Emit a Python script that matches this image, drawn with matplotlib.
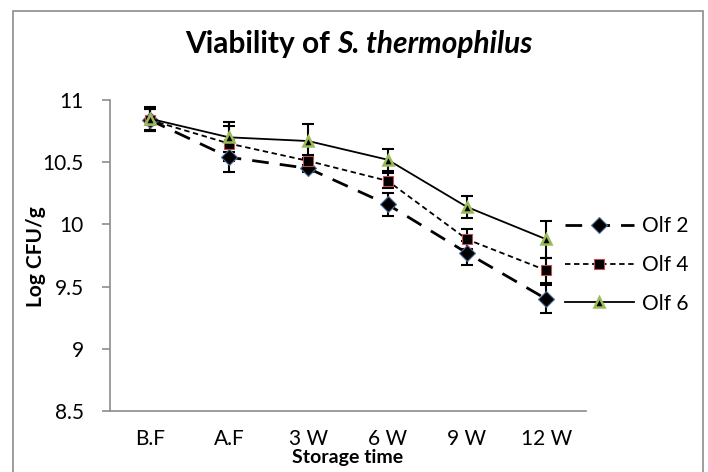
import numpy as np
import matplotlib
matplotlib.use('Agg')
import matplotlib.pyplot as plt
from matplotlib.patches import Rectangle

plt.rcParams['font.family'] = ['Lato', 'DejaVu Sans']

# storage time categories
categories = ['B.F', 'A.F', '3 W', '6 W', '9 W', '12 W']

# Log CFU/g for each treatment
olf2 = [10.84, 10.54, 10.45, 10.16, 9.77, 9.40]
olf4 = [10.84, 10.65, 10.51, 10.35, 9.88, 9.63]
olf6 = [10.85, 10.70, 10.67, 10.52, 10.14, 9.88]

olf2_err = [0.09, 0.12, 0.03, 0.09, 0.10, 0.11]
olf4_err = [0.09, 0.14, 0.05, 0.06, 0.08, 0.10]
olf6_err = [0.09, 0.12, 0.14, 0.09, 0.09, 0.15]

W, H, DPI = 708, 472, 100
fig = plt.figure(figsize=(W / DPI, H / DPI), dpi=DPI)

# outer chart border (Excel chart area)
fig.add_artist(Rectangle((13 / W, -0.05), 690 / W, 1 - 11 / H + 0.05,
                         transform=fig.transFigure, fill=False,
                         edgecolor='#8c8c8c', lw=1.2))

ax = fig.add_axes([110 / W, 1 - 411 / H, 476 / W, 311 / H])
x = np.arange(len(categories))

series = [
    ('Olf 2', olf2, olf2_err, dict(ls=(0, (6, 4)), lw=2.0, marker='D', ms=8.5,
                                   mfc='black', mec='#4f6d9a', mew=0.8)),
    ('Olf 4', olf4, olf4_err, dict(ls=(0, (3, 2)), lw=1.3, marker='s', ms=6.5,
                                   mfc='black', mec='#c0504d', mew=0.8)),
    ('Olf 6', olf6, olf6_err, dict(ls='-', lw=1.3, marker='^', ms=6.5,
                                   mfc='black', mec='#9bbb59', mew=1.8)),
]

handles = []
for label, vals, err, style in series:
    ax.errorbar(x, vals, yerr=err, fmt='none', ecolor='black', elinewidth=1.5,
                capsize=4.5, capthick=1.5, zorder=2)
    h, = ax.plot(x, vals, color='black', label=label, zorder=3, **style)
    handles.append(h)

ax.set_xlim(-0.5, len(categories) - 0.5)
ax.set_ylim(8.5, 11)
ax.set_yticks([8.5, 9, 9.5, 10, 10.5, 11])
ax.set_yticklabels(['8.5', '9', '9.5', '10', '10.5', '11'])
ax.set_xticks(x)
ax.set_xticklabels(categories)

for s in ['top', 'right']:
    ax.spines[s].set_visible(False)
for s in ['left', 'bottom']:
    ax.spines[s].set_color('#8c8c8c')
    ax.spines[s].set_linewidth(1.2)
ax.tick_params(axis='y', length=6, width=1.2, color='#8c8c8c',
               labelsize=15, pad=13)
ax.tick_params(axis='x', length=0, labelsize=15, pad=13)

fig.text(348 / W, 1 - 458 / H, 'Storage time', fontsize=14,
         fontweight='bold', ha='center', va='center')
fig.text(36 / W, 1 - 257 / H, 'Log CFU/g', rotation=90, fontsize=15,
         fontweight='bold', ha='center', va='center')

ax.legend(handles=handles, loc='center left', frameon=False, fontsize=15,
          bbox_to_anchor=(565 / W, 1 - 265 / H),
          bbox_transform=fig.transFigure, borderpad=0, borderaxespad=0,
          handlelength=3.3, handletextpad=0.4, labelspacing=0.9, numpoints=1)

# title: plain bold part + bold italic species name
renderer = fig.canvas.get_renderer()
t1 = fig.text(0, 1 - 44 / H, 'Viability of ', fontsize=21.5,
              fontweight='bold', va='center')
t2 = fig.text(0, 1 - 44 / H, 'S. thermophilus', fontsize=21.5,
              fontweight='bold', style='italic', va='center')
w1 = t1.get_window_extent(renderer).width
w2 = t2.get_window_extent(renderer).width
x0 = 359 - (w1 + w2) / 2
t1.set_x(x0 / W)
t2.set_x((x0 + w1) / W)

fig.savefig('out.png', dpi=DPI)
